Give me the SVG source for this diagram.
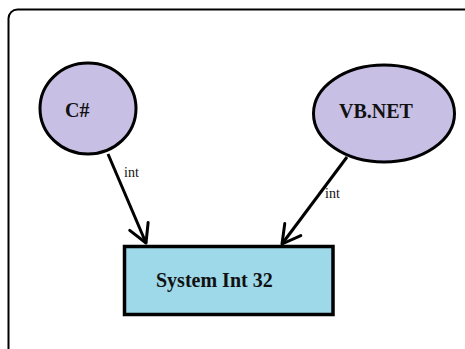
<svg xmlns="http://www.w3.org/2000/svg" width="465" height="349" viewBox="0 0 465 349">
  <style>
    .frame { fill: none; stroke: #000; stroke-width: 2; }
    .lang { fill: #c8bfe5; stroke: #000; stroke-width: 3; }
    .type { fill: #9dd9e9; stroke: #000; stroke-width: 3.5; }
    .title { font-family: "Liberation Serif", "Times New Roman", serif; font-weight: bold; font-size: 20px; fill: #111; }
    .edge { stroke: #000; stroke-width: 3; fill: none; marker-end: url(#head); }
    .edge-label { font-family: "Liberation Serif", "Times New Roman", serif; font-size: 14px; fill: #111; }
  </style>
  <defs>
    <marker id="head" markerUnits="userSpaceOnUse" markerWidth="30" markerHeight="30" viewBox="-20 -15 25 30" refX="0" refY="0" orient="auto">
      <path d="M-18,-10 L0,0 L-18,10" fill="none" stroke="#000" stroke-width="3" stroke-linecap="round" stroke-linejoin="round"/>
    </marker>
  </defs>

  <rect width="465" height="349" fill="#fff"/>

  <!-- outer frame, running off the right and bottom edges -->
  <rect class="frame" x="8.5" y="9.5" width="480" height="360" rx="9"/>

  <g id="edges">
    <path class="edge" d="M108,154 L146,243"/>
    <text class="edge-label" x="124" y="177">int</text>
    <path class="edge" d="M347,157 L282,244"/>
    <text class="edge-label" x="325" y="198">int</text>
  </g>

  <g id="csharp">
    <ellipse class="lang" cx="88" cy="108.5" rx="48" ry="45.5"/>
    <text class="title" x="65" y="117">C#</text>
  </g>

  <g id="vbnet">
    <ellipse class="lang" cx="384" cy="113.5" rx="70.5" ry="48.5"/>
    <text class="title" x="339" y="117.5">VB.NET</text>
  </g>

  <g id="int32">
    <rect class="type" x="124.5" y="246.5" width="208.5" height="68"/>
    <text class="title" x="156" y="287">System Int 32</text>
  </g>
</svg>
